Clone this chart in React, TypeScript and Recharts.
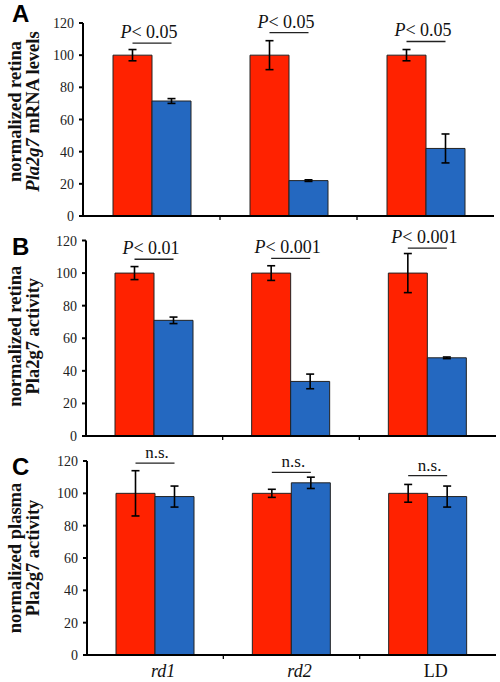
import React from "react";
import { Bar, BarChart, ErrorBar, Label, LabelList, XAxis, YAxis } from "recharts";

const categories = ["rd1", "rd2", "LD"];
const categoryItalic = [true, true, false];

// A: retina Pla2g7 mRNA
const mrnaControl = [100, 100, 100];
const mrnaControlErr = [3.5, 9, 3.5];
const mrnaMutant = [71.5, 22, 42];
const mrnaMutantErr = [1.5, 0.5, 9];
const mrnaSig = ["< 0.05", "< 0.05", "< 0.05"];
const mrnaSigLevel = [107.5, 114, 108.5];

// B: retina Pla2g7 activity
const retinaControl = [100, 100, 100];
const retinaControlErr = [4, 4.5, 12];
const retinaMutant = [71, 33.5, 48];
const retinaMutantErr = [2, 4.5, 0.5];
const retinaSig = ["< 0.01", "< 0.001", "< 0.001"];
const retinaSigLevel = [108.5, 109, 115.3];

// C: plasma Pla2g7 activity
const plasmaControl = [100, 100, 100];
const plasmaControlErr = [14, 2.5, 5.5];
const plasmaMutant = [98, 106.5, 98];
const plasmaMutantErr = [6.5, 3.5, 6.5];
const plasmaSig = ["n.s.", "n.s.", "n.s."];
const plasmaSigLevel = [118.7, 113, 111];

const yTicks = [0, 20, 40, 60, 80, 100, 120];

const RED = "#ff2200";
const BLUE = "#2468c0";
const SERIF = "'Liberation Serif', 'Times New Roman', serif";
const SANS = "'Liberation Sans', Arial, sans-serif";

type Seg = [string, boolean];

const buildRows = (
  control: number[],
  controlErr: number[],
  mutant: number[],
  mutantErr: number[],
  sig: string[],
  sigLevel: number[]
) =>
  categories.map((name, i) => ({
    name,
    control: control[i],
    controlErr: controlErr[i],
    mutant: mutant[i],
    mutantErr: mutantErr[i],
    sig: sig[i],
    sigLevel: sigLevel[i],
  }));

const SigMark = (rows: any[]) => (props: any) => {
  const { x, y, width, height, index } = props;
  const row = rows[index];
  const px = Number(height) / row.control;
  const ly = Number(y) + Number(height) - row.sigLevel * px;
  const x1 = Number(x) + Number(width) / 2;
  const x2 = Number(x) + Number(width) * 1.5;
  const isP = row.sig !== "n.s.";
  return (
    <g>
      <line x1={x1} x2={x2} y1={ly} y2={ly} stroke="#222" strokeWidth={1.3} />
      <text
        x={(x1 + x2) / 2 - (isP ? 3 : -2)}
        y={ly - 5}
        textAnchor="middle"
        fontFamily={SERIF}
        fontSize={isP ? 18 : 17}
        fill="#111"
      >
        {isP && <tspan fontStyle="italic">P</tspan>}
        {row.sig}
      </text>
    </g>
  );
};

const YLabel =
  (letter: string, letterY: number, lines: Seg[][], dy: number) => (props: any) => {
    const vb = props.viewBox;
    const cy = vb.y + vb.height / 2 + dy;
    const bases = [21, 39];
    return (
      <g>
        <text x={12} y={letterY} fontFamily={SANS} fontWeight="bold" fontSize={24} fill="#000">
          {letter}
        </text>
        {lines.map((segs, li) => (
          <text
            key={li}
            transform={`translate(${bases[li]}, ${cy}) rotate(-90)`}
            textAnchor="middle"
            fontFamily={SERIF}
            fontWeight="bold"
            fontSize={18.5}
            fill="#111"
          >
            {segs.map(([t, it], si) => (
              <tspan key={si} fontStyle={it ? "italic" : "normal"}>
                {t}
              </tspan>
            ))}
          </text>
        ))}
      </g>
    );
  };

const YTick = (props: any) => {
  const { x, y, payload } = props;
  return (
    <text x={x} y={y} dy={5} textAnchor="end" fontFamily={SERIF} fontSize={14} fill="#222">
      {payload.value}
    </text>
  );
};

const XTick = (showNames: boolean) => (props: any) => {
  const { x, y, payload, index } = props;
  const half = payload.offset ?? 0;
  return (
    <g>
      {index < 2 && (
        <line x1={x + half} x2={x + half} y1={y} y2={y + 4} stroke="#000" strokeWidth={1.3} />
      )}
      {showNames && (
        <text
          x={x + 8}
          y={y + 22}
          textAnchor="middle"
          fontFamily={SERIF}
          fontSize={18}
          fontStyle={categoryItalic[index] ? "italic" : "normal"}
          fill="#111"
        >
          {payload.value}
        </text>
      )}
    </g>
  );
};

type PanelProps = {
  rows: any[];
  top: number;
  height: number;
  plotTop: number;
  bottom: number;
  axisWidth: number;
  right: number;
  xHeight: number;
  letter: string;
  letterY: number;
  lines: Seg[][];
  labelDy: number;
  showNames: boolean;
};

const Panel = (p: PanelProps) => (
  <div style={{ position: "absolute", left: 0, top: p.top, width: 500, height: p.height }}>
    <BarChart
      width={500}
      height={p.height}
      data={p.rows}
      margin={{ top: p.plotTop, right: p.right, bottom: p.bottom, left: 0 }}
      barGap={0}
      barSize={39}
    >
      <XAxis
        dataKey="name"
        height={p.xHeight}
        stroke="#000"
        strokeWidth={2}
        tickLine={false}
        tickSize={0}
        tickMargin={0}
        tick={XTick(p.showNames)}
        interval={0}
      />
      <YAxis
        width={p.axisWidth}
        domain={[0, 120]}
        ticks={yTicks}
        interval={0}
        stroke="#000"
        strokeWidth={2}
        tickSize={4}
        tickMargin={5}
        tick={YTick}
      >
        <Label content={YLabel(p.letter, p.letterY, p.lines, p.labelDy)} />
      </YAxis>
      <Bar dataKey="control" fill={RED} stroke="#222" strokeWidth={1} isAnimationActive={false}>
        <ErrorBar dataKey="controlErr" width={4} stroke="#000" strokeWidth={1.6} />
        <LabelList dataKey="sig" content={SigMark(p.rows)} />
      </Bar>
      <Bar dataKey="mutant" fill={BLUE} stroke="#222" strokeWidth={1} isAnimationActive={false}>
        <ErrorBar dataKey="mutantErr" width={4} stroke="#000" strokeWidth={1.6} />
      </Bar>
    </BarChart>
  </div>
);

export default function App() {
  const rowsA = buildRows(mrnaControl, mrnaControlErr, mrnaMutant, mrnaMutantErr, mrnaSig, mrnaSigLevel);
  const rowsB = buildRows(retinaControl, retinaControlErr, retinaMutant, retinaMutantErr, retinaSig, retinaSigLevel);
  const rowsC = buildRows(plasmaControl, plasmaControlErr, plasmaMutant, plasmaMutantErr, plasmaSig, plasmaSigLevel);

  return (
    <div
      style={{
        position: "absolute",
        left: 0,
        top: 0,
        width: 500,
        height: 682,
        background: "#fff",
        overflow: "hidden",
      }}
    >
      <Panel
        rows={rowsA}
        top={0}
        height={228}
        plotTop={23}
        bottom={8}
        axisWidth={83}
        right={6}
        xHeight={4}
        letter="A"
        letterY={22}
        lines={[[["normalized retina", false]], [["Pla2g7", true], [" mRNA levels", false]]]}
        labelDy={-8}
        showNames={false}
      />
      <Panel
        rows={rowsB}
        top={220}
        height={228}
        plotTop={20.5}
        bottom={8}
        axisWidth={86}
        right={4}
        xHeight={4}
        letter="B"
        letterY={35}
        lines={[[["normalized retina", false]], [["Pla2g7 activity", false]]]}
        labelDy={-2}
        showNames={false}
      />
      <Panel
        rows={rowsC}
        top={442}
        height={240}
        plotTop={19}
        bottom={0}
        axisWidth={87}
        right={4}
        xHeight={27}
        letter="C"
        letterY={33}
        lines={[[["normalized plasma", false]], [["Pla2g7 activity", false]]]}
        labelDy={0}
        showNames={true}
      />
    </div>
  );
}
